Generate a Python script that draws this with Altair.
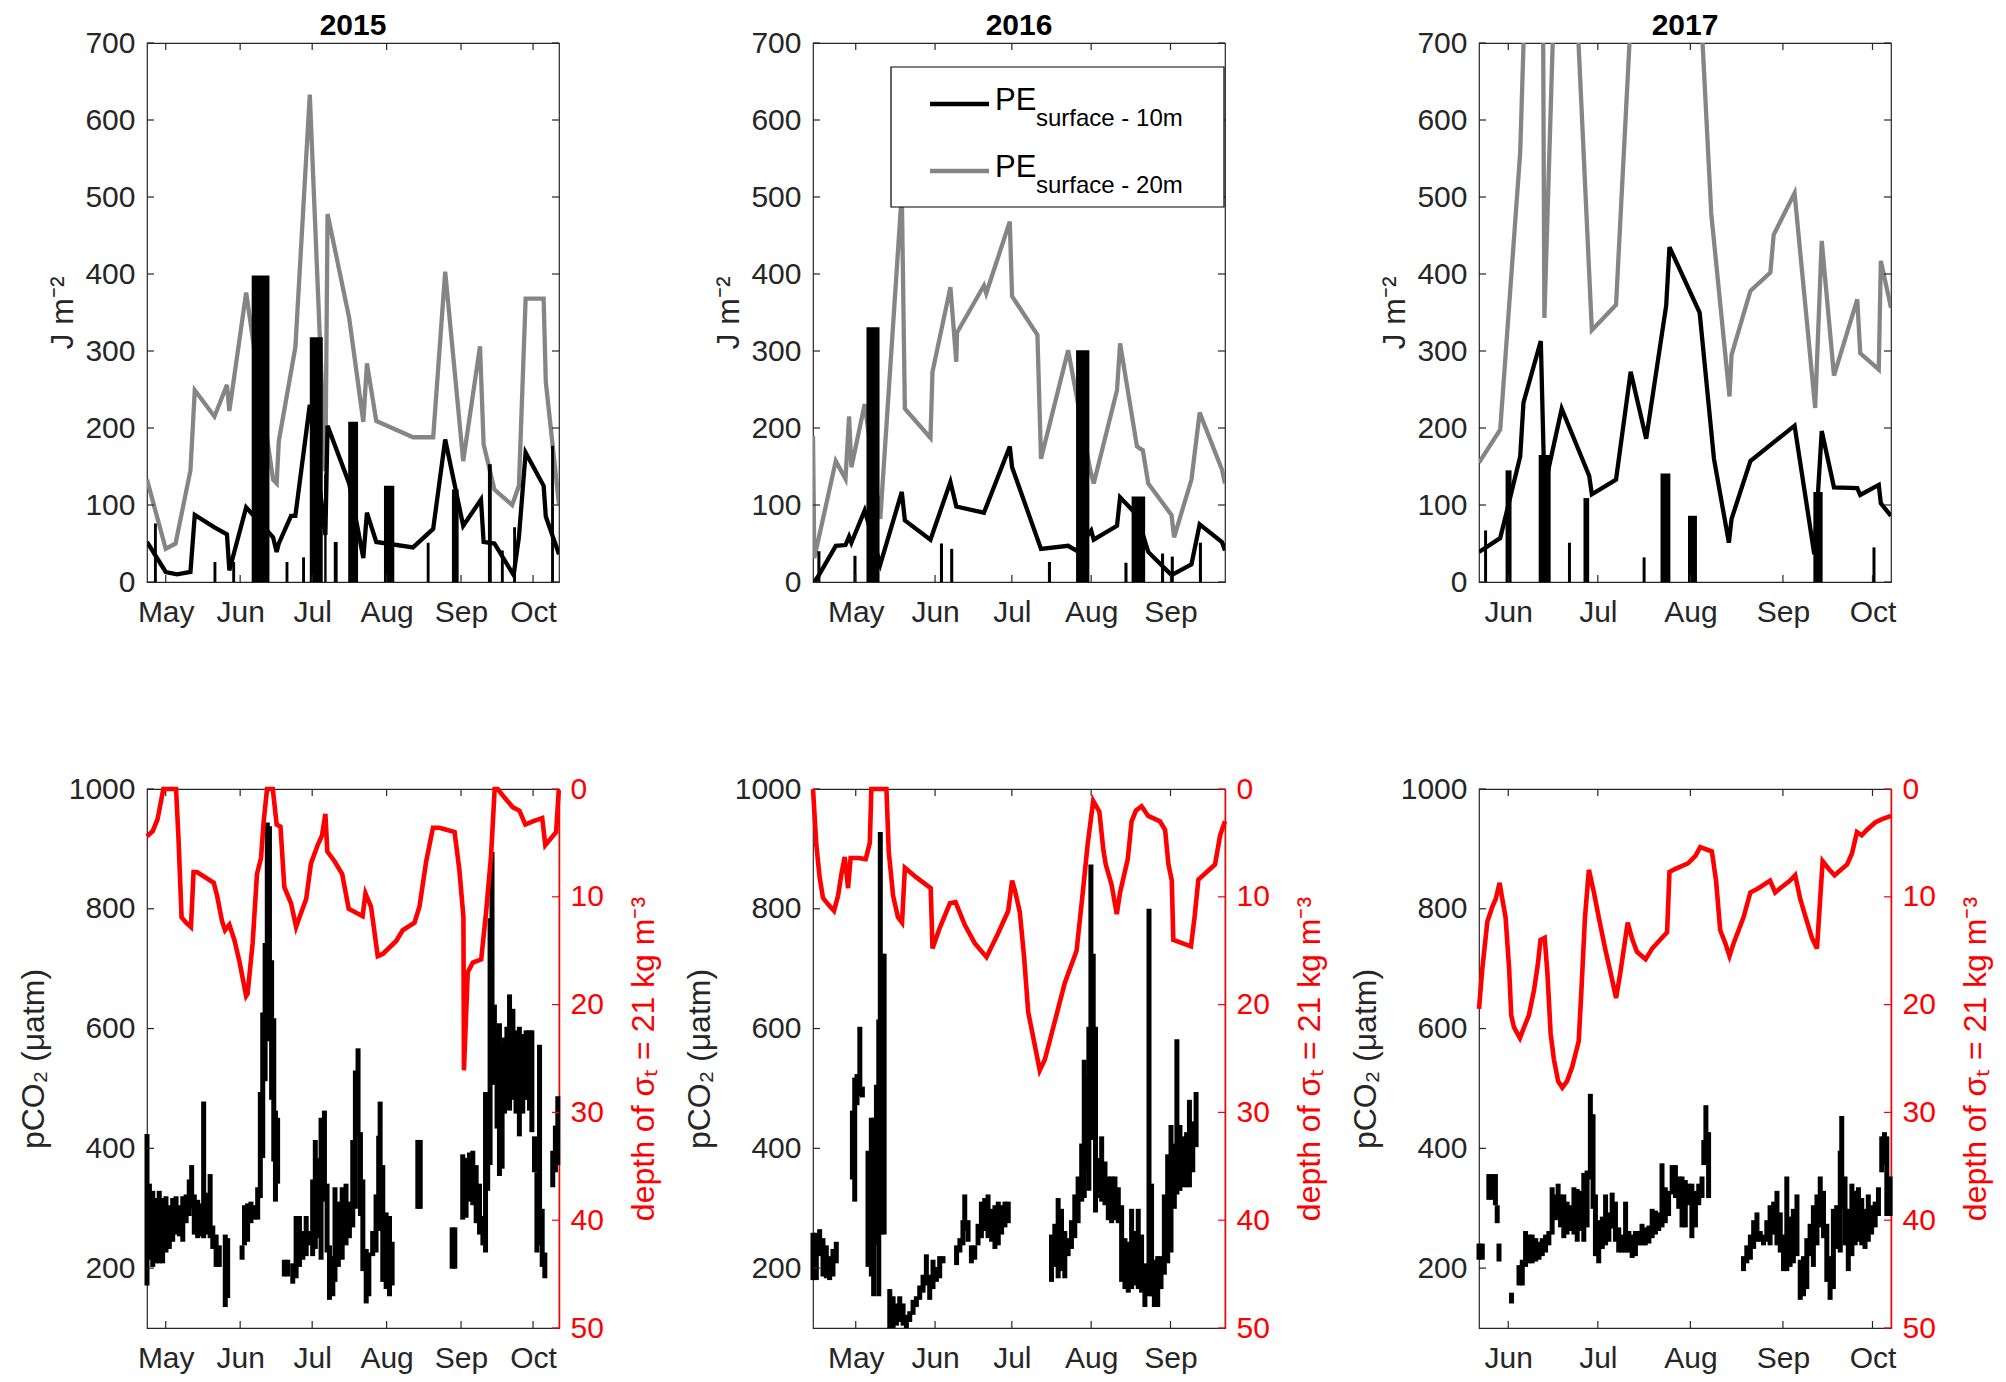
import altair as alt
import pandas as pd

# x is day of year; months are ticked on the 1st
pe_ticks = [0, 100, 200, 300, 400, 500, 600, 700]
pco2_ticks = [200, 400, 600, 800, 1000]
depth_ticks = [0, 10, 20, 30, 40, 50]

dom_2015 = [113.2, 284.8]
mon_doy_2015 = [121, 152, 182, 213, 244, 274]
mon_lbl_2015 = ["May", "Jun", "Jul", "Aug", "Sep", "Oct"]
dom_2016 = [105.3, 266.3]
mon_doy_2016 = [122, 153, 183, 214, 245]
mon_lbl_2016 = ["May", "Jun", "Jul", "Aug", "Sep"]
dom_2017 = [142.2, 280.2]
mon_doy_2017 = [152, 182, 213, 244, 274]
mon_lbl_2017 = ["Jun", "Jul", "Aug", "Sep", "Oct"]

# ---- potential energy, top row ----
pe20_doy_2015 = [113.2, 121.0, 125.1, 131.3, 133.1, 141.3, 146.5, 147.5, 154.5, 165.7,
                 167.2, 168.1, 175.0, 181.0, 187.5, 188.4, 197.4, 203.3, 204.8, 208.7,
                 224.0, 232.4, 237.4, 244.9, 251.9, 253.4, 257.9, 265.3, 268.1, 270.9,
                 278.4, 279.3, 284.8]
pe20_2015 = [133, 43, 50, 145, 249, 215, 256, 222, 376, 133,
             128, 183, 305, 633, 144, 478, 343, 208, 284, 209,
             188, 188, 403, 157, 306, 179, 120, 100, 125, 368,
             368, 260, 101]
pe10_doy_2015 = [113.2, 121.0, 125.7, 131.3, 133.1, 141.3, 146.5, 147.5, 154.5, 165.7,
                 167.2, 168.1, 173.2, 175.0, 181.0, 187.5, 188.4, 197.4, 203.3, 204.8,
                 208.7, 224.0, 232.4, 237.4, 244.9, 252.3, 253.4, 257.9, 265.9, 268.1,
                 270.9, 278.4, 279.3, 284.8]
pe10_2015 = [52, 13, 10, 13, 87, 71, 62, 15, 97, 58,
             39, 50, 86, 86, 230, 61, 203, 128, 31, 90,
             52, 45, 69, 185, 73, 107, 52, 50, 9, 58,
             168, 125, 85, 36]
bar_start_2015 = [116.1, 140.9, 148.7, 156.8, 170.9, 177.8, 181.0, 187.0, 191.0, 197.0,
                  211.9, 229.7, 240.2, 255.2, 260.6, 265.7, 281.5]
bar_end_2015 = [117.3, 142.1, 149.9, 164.2, 172.1, 179.0, 186.4, 188.0, 192.6, 201.1,
                216.2, 230.9, 243.0, 256.8, 261.8, 266.9, 282.7]
bar_val_2015 = [76, 26, 26, 398, 26, 32, 318, 140, 52, 208,
                125, 51, 120, 153, 41, 71, 177]

pe20_doy_2016 = [105.3, 105.8, 114.2, 118.0, 119.4, 120.3, 125.5, 131.6, 140.0, 141.2,
                 151.2, 152.0, 159.0, 161.3, 161.6, 172.1, 173.0, 182.2, 183.1, 193.0,
                 194.4, 205.0, 213.6, 215.0, 224.1, 225.3, 231.9, 234.2, 236.3, 245.4,
                 246.4, 253.2, 256.4, 265.1, 266.3]
pe20_2016 = [190, 31, 157, 134, 215, 149, 231, 82, 505, 225,
             187, 273, 383, 286, 324, 385, 375, 468, 371, 321,
             160, 301, 146, 128, 249, 310, 176, 171, 128, 87,
             58, 133, 220, 146, 128]
pe10_doy_2016 = [105.8, 107.6, 114.2, 118.0, 119.4, 120.3, 125.5, 131.6, 140.0, 141.2,
                 151.2, 159.0, 161.3, 172.1, 182.2, 183.1, 194.4, 205.0, 208.1, 214.0,
                 215.0, 224.1, 225.3, 231.9, 236.3, 245.4, 253.2, 256.4, 265.1, 266.3]
pe10_2016 = [0, 9, 47, 48, 59, 51, 93, 23, 117, 80,
             55, 130, 98, 90, 176, 149, 43, 47, 41, 67,
             55, 73, 110, 87, 39, 9, 23, 75, 52, 41]
bar_start_2016 = [107.0, 121.1, 126.2, 154.9, 158.9, 197.1, 208.1, 227.0, 229.8, 241.3,
                  245.1, 256.1]
bar_end_2016 = [108.2, 122.3, 131.3, 156.1, 160.1, 198.3, 213.3, 228.2, 235.1, 242.5,
                246.3, 257.3]
bar_val_2016 = [40, 34, 331, 50, 43, 26, 301, 25, 111, 37, 33, 51]

pe20_doy_2017 = [142.2, 149.3, 156.0, 162.9, 164.1, 170.3, 180.0, 188.1, 204.9, 220.0,
                 226.1, 226.8, 233.1, 239.8, 240.9, 247.9, 254.8, 257.0, 261.1, 268.9,
                 269.9, 276.1, 276.8, 280.2]
pe20_2017 = [155, 198, 558, 1430, 343, 1137, 327, 360, 1628, 478,
             241, 295, 378, 402, 451, 505, 226, 443, 268, 367,
             297, 276, 417, 356]
pe10_doy_2017 = [142.2, 149.3, 151.4, 156.0, 157.1, 162.9, 164.1, 165.1, 169.9, 179.1,
                 180.0, 188.1, 193.0, 198.2, 204.9, 206.0, 216.1, 220.9, 225.9, 226.8,
                 233.1, 247.9, 254.5, 257.0, 261.1, 268.9, 269.9, 276.1, 276.8, 280.2]
pe10_2017 = [39, 57, 90, 163, 233, 313, 125, 140, 225, 138,
             114, 133, 273, 186, 359, 435, 350, 160, 51, 82,
             157, 203, 36, 196, 123, 122, 113, 126, 102, 86]
bar_start_2017 = [143.9, 151.1, 162.2, 172.0, 177.2, 197.0, 203.0, 212.2, 254.2, 274.0]
bar_end_2017 = [144.9, 153.1, 166.2, 173.0, 179.1, 198.0, 206.3, 215.2, 257.3, 275.0]
bar_val_2017 = [67, 145, 165, 51, 109, 32, 141, 86, 117, 45]

legend_main = ["PE", "PE"]
legend_sub = ["surface - 10m", "surface - 20m"]
legend_color = ["black", "#858585"]

# ---- pCO2 (low/high envelope per time step) and isopycnal depth, bottom row ----
pco2_doy_2015 = [113.2, 114.2, 115.6, 117.0, 118.3, 119.7, 121.1, 122.5, 123.9, 125.3,
                 126.7, 128.1, 129.5, 130.8, 131.8, 132.9, 134.3, 135.7, 136.8, 137.8,
                 139.5, 140.6, 142.0, 143.3, 145.8, 146.8, 152.8, 153.8, 155.1, 156.5,
                 157.9, 159.3, 160.4, 161.4, 162.4, 163.3, 164.2, 165.1, 166.0, 166.7,
                 167.6, 170.4, 171.8, 173.9, 175.3, 176.7, 178.1, 179.5, 180.8, 182.2,
                 183.3, 184.5, 185.7, 187.1, 188.2, 189.2, 190.6, 191.5, 192.9, 194.5,
                 196.1, 197.5, 198.9, 200.0, 201.1, 202.1, 203.1, 204.5, 205.6, 207.2,
                 208.6, 209.7, 210.3, 211.4, 212.8, 214.2, 215.3, 226.0, 227.0, 240.3,
                 241.4, 244.7, 246.1, 247.5, 248.9, 250.3, 251.7, 253.1, 254.2, 255.1,
                 256.1, 256.9, 257.9, 259.0, 260.0, 261.1, 262.1, 263.1, 264.2, 265.6,
                 266.9, 268.3, 269.7, 271.1, 272.5, 273.5, 274.6, 275.6, 276.7, 277.8,
                 278.9, 282.2, 283.3, 284.3]
pco2_lo_2015 = [171, 214, 202, 208, 208, 208, 226, 232, 244, 256,
                253, 244, 275, 287, 299, 256, 250, 253, 250, 256,
                250, 232, 202, 202, 135, 150, 214, 238, 244, 275,
                281, 281, 317, 384, 512, 579, 664, 481, 378, 311,
                341, 186, 186, 174, 183, 202, 214, 220, 238, 220,
                232, 250, 214, 311, 226, 147, 153, 177, 202, 214,
                238, 250, 268, 299, 421, 287, 195, 141, 153, 220,
                226, 262, 335, 177, 165, 153, 171, 299, 299, 199,
                199, 281, 284, 311, 305, 275, 256, 238, 226, 329,
                372, 554, 506, 433, 354, 366, 458, 470, 463, 481,
                458, 420, 458, 481, 463, 427, 360, 226, 238, 202,
                183, 335, 360, 372]
pco2_hi_2015 = [424, 341, 329, 317, 329, 317, 320, 305, 317, 320,
                305, 320, 323, 348, 372, 323, 314, 308, 478, 326,
                357, 271, 256, 238, 256, 250, 238, 305, 308, 311,
                305, 335, 494, 627, 743, 944, 938, 714, 617, 463,
                451, 214, 214, 208, 287, 287, 262, 287, 262, 348,
                414, 384, 451, 463, 341, 238, 220, 335, 311, 335,
                341, 311, 414, 530, 567, 427, 348, 232, 226, 262,
                323, 421, 478, 372, 293, 287, 244, 414, 414, 268,
                268, 390, 384, 393, 396, 372, 341, 287, 494, 481,
                784, 895, 640, 603, 609, 573, 585, 603, 657, 633,
                597, 603, 591, 597, 597, 597, 420, 360, 573, 299,
                226, 396, 438, 487]
red_doy_2015 = [113.2, 115.6, 117.6, 120.0, 125.3, 126.3, 127.6, 129.5, 131.5, 132.6,
                134.0, 141.0, 142.4, 144.5, 145.7, 147.5, 149.6, 151.7, 154.5, 155.1,
                157.2, 159.0, 160.7, 161.8, 163.2, 165.6, 167.2, 168.8, 170.4, 173.2,
                175.3, 176.7, 179.5, 181.5, 184.3, 186.1, 187.5, 188.3, 191.3, 194.5,
                197.2, 203.0, 204.2, 206.5, 209.3, 211.4, 217.0, 219.7, 224.6, 226.7,
                229.5, 232.3, 235.0, 241.3, 243.3, 245.0, 245.2, 246.8, 248.9, 252.4,
                254.5, 256.5, 258.0, 259.3, 262.1, 265.6, 268.3, 270.8, 273.9, 277.8,
                279.1, 283.6, 284.7]
red_dep_2015 = [4.4, 3.9, 2.8, 0, 0, 4.5, 11.9, 12.4, 12.8, 7.7,
                7.7, 8.7, 9.9, 12.3, 13.1, 12.6, 14.0, 16.0, 19.2, 19.0,
                14.3, 7.9, 6.4, 3.0, 0, 0, 3.3, 3.5, 9.1, 10.6,
                12.8, 11.9, 10.2, 6.9, 5.2, 4.3, 2.3, 5.8, 6.7, 7.9,
                11.1, 11.8, 9.7, 10.9, 15.5, 15.3, 14.1, 13.1, 12.4, 10.9,
                6.7, 3.6, 3.6, 4.0, 7.5, 11.9, 26.1, 17.0, 16.1, 15.8,
                11.3, 6.2, 0, 0, 0.8, 1.7, 2.0, 3.3, 3.0, 2.7,
                5.2, 4.0, 0.1]

pco2_doy_2016 = [105.3, 106.6, 107.9, 109.2, 110.5, 111.8, 113.1, 114.4, 120.7, 121.6,
                 122.5, 123.6, 124.6, 126.8, 128.1, 129.0, 130.1, 131.0, 131.6, 132.3,
                 133.1, 135.3, 136.6, 137.9, 139.2, 140.5, 141.8, 143.1, 144.4, 145.7,
                 147.0, 148.3, 149.6, 150.9, 152.2, 153.5, 154.8, 156.1, 161.4, 162.7,
                 163.9, 164.6, 165.9, 167.2, 168.5, 169.8, 171.1, 172.4, 173.7, 175.1,
                 176.4, 177.7, 179.0, 180.3, 181.6, 198.5, 199.8, 201.1, 202.4, 203.7,
                 205.0, 206.3, 207.6, 208.9, 210.3, 211.3, 212.2, 213.1, 213.9, 214.8,
                 215.7, 216.8, 218.1, 219.4, 220.7, 222.0, 223.3, 224.6, 225.9, 227.2,
                 228.5, 229.8, 231.1, 232.4, 233.7, 235.0, 236.6, 237.6, 238.7, 240.0,
                 241.3, 242.6, 243.9, 245.2, 246.5, 247.5, 248.7, 250.0, 251.3, 252.4,
                 253.7, 255.0]
pco2_lo_2016 = [180, 180, 220, 186, 183, 180, 186, 208, 348, 311,
                472, 487, 485, 202, 186, 153, 238, 153, 603, 256,
                256, 100, 100, 104, 110, 104, 100, 110, 122, 135,
                147, 159, 171, 147, 165, 177, 183, 208, 205, 226,
                238, 262, 244, 208, 214, 238, 250, 262, 250, 244,
                232, 238, 256, 268, 275, 177, 202, 183, 195, 183,
                220, 232, 250, 275, 311, 317, 360, 329, 414, 420,
                293, 317, 311, 305, 280, 275, 280, 275, 177, 165,
                159, 165, 171, 165, 159, 135, 153, 153, 135, 135,
                165, 189, 208, 226, 299, 323, 329, 335, 335, 335,
                360, 402]
pco2_hi_2016 = [259, 259, 265, 250, 238, 220, 232, 244, 463, 518,
                524, 603, 503, 396, 451, 451, 506, 615, 928, 725,
                725, 165, 153, 141, 153, 141, 122, 128, 147, 153,
                171, 189, 223, 189, 214, 202, 220, 220, 238, 250,
                280, 323, 280, 238, 238, 274, 311, 317, 323, 299,
                305, 311, 305, 311, 311, 256, 274, 317, 299, 262,
                250, 280, 323, 353, 408, 548, 518, 603, 874, 725,
                603, 384, 420, 378, 353, 353, 353, 335, 305, 250,
                244, 299, 262, 299, 256, 208, 800, 341, 214, 220,
                220, 323, 390, 439, 408, 582, 439, 420, 427, 481,
                445, 494]
red_doy_2016 = [105.3, 106.6, 107.9, 109.2, 111.2, 113.5, 115.1, 116.4, 117.7, 119.0,
                120.0, 122.9, 125.9, 127.5, 128.1, 134.0, 134.9, 136.6, 138.5, 140.1,
                141.2, 145.7, 151.3, 152.0, 154.8, 158.8, 161.0, 164.6, 168.5, 173.1,
                177.6, 181.6, 183.1, 184.2, 186.1, 187.8, 189.4, 192.0, 193.9, 195.9,
                199.2, 203.7, 208.3, 210.9, 212.6, 214.8, 217.2, 218.8, 219.7, 222.0,
                224.0, 225.3, 228.3, 229.8, 231.5, 233.7, 236.3, 240.9, 242.9, 244.2,
                245.5, 246.1, 253.0, 254.4, 255.9, 262.4, 264.4, 266.3]
red_dep_2016 = [0, 5.2, 8.2, 10.1, 10.7, 11.3, 9.9, 7.9, 6.3, 9.2,
                6.4, 6.4, 6.5, 5.0, 0, 0, 5.8, 9.9, 11.9, 12.4,
                7.3, 8.2, 9.2, 14.8, 12.9, 10.6, 10.5, 12.6, 14.3, 15.6,
                13.4, 11.3, 8.5, 9.4, 11.4, 15.6, 20.7, 23.8, 26.1, 25.1,
                22.1, 18.0, 15.0, 9.2, 5.2, 1.1, 2.1, 5.7, 7.0, 8.9,
                11.6, 9.6, 6.5, 3.0, 2.0, 1.6, 2.5, 3.0, 3.8, 7.0,
                8.5, 14.0, 14.6, 11.9, 8.4, 7.0, 4.3, 3.0]

pco2_doy_2017 = [142.2, 143.3, 145.5, 146.6, 147.7, 148.3, 148.9, 153.1, 155.6, 156.7,
                 157.8, 158.9, 160.0, 161.2, 162.3, 163.4, 164.5, 165.6, 166.7, 167.8,
                 168.7, 169.5, 170.6, 171.7, 172.9, 174.0, 175.1, 176.2, 177.3, 178.4,
                 179.5, 180.4, 181.2, 182.3, 183.5, 184.6, 185.7, 186.8, 187.9, 189.0,
                 190.1, 191.3, 192.4, 193.5, 194.6, 195.7, 196.8, 197.9, 199.1, 200.2,
                 201.3, 202.4, 203.5, 204.6, 205.7, 206.9, 208.0, 209.1, 210.2, 211.3,
                 212.4, 213.5, 214.7, 215.8, 216.9, 217.5, 218.2, 219.1, 230.8, 231.9,
                 233.1, 234.2, 235.3, 236.4, 237.5, 238.6, 239.7, 240.9, 242.0, 243.1,
                 244.2, 245.3, 246.4, 247.5, 248.7, 249.8, 250.9, 252.0, 253.1, 254.2,
                 255.4, 256.5, 257.6, 258.7, 259.8, 260.9, 262.0, 263.2, 263.7, 264.8,
                 265.9, 267.1, 268.2, 269.3, 270.4, 271.5, 272.6, 273.7, 274.9, 276.0,
                 277.1, 278.0, 278.8, 279.9]
pco2_lo_2017 = [214, 214, 314, 314, 305, 275, 211, 141, 171, 171,
                202, 208, 208, 211, 214, 220, 226, 238, 256, 280,
                287, 268, 250, 256, 262, 256, 244, 262, 244, 268,
                348, 299, 220, 208, 232, 238, 244, 266, 244, 226,
                226, 226, 226, 217, 220, 238, 238, 238, 241, 250,
                256, 262, 268, 275, 287, 323, 317, 299, 268, 268,
                305, 250, 268, 305, 317, 372, 378, 317, 195, 208,
                214, 232, 244, 244, 238, 244, 238, 256, 238, 226,
                195, 195, 202, 208, 220, 147, 153, 165, 220, 202,
                238, 268, 250, 177, 147, 165, 232, 226, 299, 238,
                195, 220, 238, 244, 238, 232, 244, 256, 268, 287,
                360, 372, 287, 287]
pco2_hi_2017 = [241, 241, 357, 357, 357, 305, 241, 159, 205, 214,
                262, 256, 256, 250, 244, 250, 256, 262, 335, 323,
                341, 323, 323, 311, 305, 335, 332, 329, 359, 363,
                491, 457, 323, 280, 286, 323, 293, 326, 311, 268,
                256, 311, 262, 256, 262, 262, 274, 268, 271, 299,
                296, 293, 375, 335, 329, 372, 372, 353, 353, 347,
                341, 341, 329, 341, 353, 414, 472, 427, 220, 238,
                256, 280, 293, 262, 256, 280, 305, 311, 329, 293,
                256, 353, 286, 299, 323, 214, 220, 250, 274, 305,
                323, 353, 329, 274, 220, 299, 305, 396, 454, 353,
                299, 341, 329, 335, 317, 299, 323, 305, 311, 335,
                420, 427, 420, 353]
red_doy_2017 = [142.2, 143.3, 145.0, 146.7, 147.8, 149.1, 150.0, 151.1, 152.3, 153.0,
                153.9, 155.9, 157.3, 158.9, 160.6, 161.9, 162.8, 164.2, 165.1, 166.2,
                167.3, 168.7, 170.1, 171.7, 173.4, 175.6, 176.5, 177.7, 179.0, 180.7,
                182.3, 184.6, 186.8, 188.1, 189.4, 191.0, 192.0, 193.5, 195.1, 198.0,
                200.2, 203.5, 205.2, 206.0, 208.0, 212.2, 214.7, 216.3, 220.2, 221.6,
                223.0, 224.7, 226.1, 227.5, 230.8, 233.1, 235.8, 239.7, 241.4, 243.1,
                246.4, 248.1, 249.8, 251.5, 253.7, 255.4, 257.3, 259.3, 261.3, 265.5,
                267.1, 268.8, 270.4, 272.1, 274.9, 277.2, 280.2]
red_dep_2017 = [20.4, 16.7, 12.3, 10.9, 10.2, 8.7, 10.2, 11.9, 16.7, 21.0,
                22.1, 23.1, 22.1, 21.0, 18.7, 16.3, 14.0, 13.8, 17.0, 22.7,
                25.1, 27.1, 27.7, 27.1, 25.8, 23.4, 18.7, 11.9, 7.5, 9.6,
                11.9, 15.0, 17.7, 19.4, 17.3, 14.3, 12.4, 13.9, 15.1, 15.8,
                14.8, 13.8, 13.3, 7.7, 7.4, 6.9, 6.2, 5.4, 5.8, 8.5,
                13.1, 14.3, 15.5, 14.3, 11.9, 9.6, 9.2, 8.5, 9.6, 9.2,
                8.5, 8.0, 10.2, 11.8, 13.8, 14.8, 6.7, 7.4, 8.0, 7.0,
                6.0, 4.0, 4.3, 3.8, 3.1, 2.8, 2.5]

FONT = "Liberation Sans"
INK = "#262626"
GRAY = "#858585"
W, H = 412, 539
TL = 7  # inward tick length (matlab style)
LW = 4.3  # line width


def month_axis(dom, doys, names):
    expr = " : ".join(f"datum.value == {d} ? '{n}'" for d, n in zip(doys, names)) + " : ''"
    return alt.Axis(values=doys, labelExpr=expr, title=None, grid=False, domain=False,
                    ticks=False, tickSize=0, labelPadding=15, labelFlush=False)


def xq(field, xs):
    return alt.X(f"{field}:Q", scale=alt.Scale(domain=xs[0], nice=False, zero=False),
                 axis=month_axis(*xs))


def x_ticks(xs):
    base = alt.Chart(pd.DataFrame({"t": xs[1]})).mark_rule(color=INK, strokeWidth=1.2)
    return [base.encode(x=xq("t", xs), y=alt.value(H), y2=alt.value(H - TL)),
            base.encode(x=xq("t", xs), y=alt.value(0), y2=alt.value(TL))]


def y_ticks(vals, yf, x0, x1, color):
    return alt.Chart(pd.DataFrame({"t": vals})).mark_rule(color=color, strokeWidth=1.2).encode(
        y=yf("t"), x=alt.value(x0), x2=alt.value(x1))


def legend_layers():
    one = pd.DataFrame({"k": [0]})
    out = [alt.Chart(one).mark_rect(fill="white", stroke="black", strokeWidth=1.2).encode(
        x=alt.value(78), x2=alt.value(411), y=alt.value(24), y2=alt.value(164))]
    for i, (main, sub, col) in enumerate(zip(legend_main, legend_sub, legend_color)):
        dy = 67 * i
        out.append(alt.Chart(one).mark_rule(color=col, strokeWidth=LW).encode(
            x=alt.value(117), x2=alt.value(176), y=alt.value(61 + dy)))
        out.append(alt.Chart(one).mark_text(text=main, font=FONT, fontSize=31, align="left",
                                            baseline="alphabetic", color="black").encode(
            x=alt.value(182), y=alt.value(67 + dy)))
        out.append(alt.Chart(one).mark_text(text=sub, font=FONT, fontSize=24, align="left",
                                            baseline="alphabetic", color="black").encode(
            x=alt.value(223), y=alt.value(83 + dy)))
    return out


def top_panel(title, xs, k_doy, k_val, g_doy, g_val, b_s, b_e, b_v, legend=False):
    ysc = alt.Scale(domain=[0, 700], nice=False)
    yax = alt.Axis(values=pe_ticks, title="J m⁻²", titleX=-75, titleY=H / 2, titleAngle=270,
                   titleAlign="center", titleBaseline="alphabetic", labelPadding=12,
                   grid=False, domain=False, ticks=False, tickSize=0)

    def yf(f):
        return alt.Y(f"{f}:Q", scale=ysc, axis=yax)

    gray = alt.Chart(pd.DataFrame({"doy": g_doy, "v": g_val})).mark_line(
        color=GRAY, strokeWidth=LW, clip=True).encode(x=xq("doy", xs), y=yf("v"))
    black = alt.Chart(pd.DataFrame({"doy": k_doy, "v": k_val})).mark_line(
        color="black", strokeWidth=LW, clip=True).encode(x=xq("doy", xs), y=yf("v"))
    bars = alt.Chart(pd.DataFrame({"s": b_s, "e": b_e, "v": b_v})).mark_rect(color="black").encode(
        x=xq("s", xs), x2="e", y=yf("v"), y2=alt.datum(0))
    layers = [gray, black, bars] + x_ticks(xs) + [
        y_ticks(pe_ticks, yf, 0, TL, INK), y_ticks(pe_ticks, yf, W - TL, W, INK)]
    if legend:
        layers += legend_layers()
    return alt.layer(*layers).properties(
        width=W, height=H,
        title=alt.TitleParams(title, font=FONT, fontSize=30, fontWeight="bold", color="black",
                              frame="group", offset=-13))


def bottom_panel(xs, p_doy, p_lo, p_hi, r_doy, r_dep):
    psc = alt.Scale(domain=[100, 1000], nice=False, zero=False)
    pax = alt.Axis(values=pco2_ticks, format="d", title="pCO₂ (μatm)", titleX=-104,
                   titleY=H / 2, titleAngle=270, titleAlign="center",
                   titleBaseline="alphabetic", labelPadding=12, grid=False, domain=False,
                   ticks=False, tickSize=0)

    def pf(f):
        return alt.Y(f"{f}:Q", scale=psc, axis=pax)

    dsc = alt.Scale(domain=[0, 50], reverse=True, nice=False, zero=False)
    dax = alt.Axis(orient="right", values=depth_ticks, title="depth of σₜ = 21 kg m⁻³",
                   titleX=94, titleY=H / 2, titleAngle=270, titleAlign="center",
                   titleBaseline="alphabetic", titleColor="red", labelColor="red",
                   labelPadding=11, grid=False, domain=True, domainColor="red",
                   domainWidth=1.5, ticks=False, tickSize=0)

    def df(f):
        return alt.Y(f"{f}:Q", scale=dsc, axis=dax)

    pco2 = alt.Chart(pd.DataFrame({"doy": p_doy, "lo": p_lo, "hi": p_hi})).mark_rule(
        color="black", strokeWidth=5).encode(x=xq("doy", xs), y=pf("lo"), y2="hi")
    left = alt.layer(pco2, *x_ticks(xs), y_ticks(pco2_ticks, pf, 0, TL, INK))
    red = alt.Chart(pd.DataFrame({"doy": r_doy, "d": r_dep})).mark_line(
        color="red", strokeWidth=4.6).encode(x=xq("doy", xs), y=df("d"))
    right = alt.layer(red, y_ticks(depth_ticks, df, W - TL, W, "red"))
    return alt.layer(left, right).resolve_scale(y="independent").properties(width=W, height=H)


xs15 = (dom_2015, mon_doy_2015, mon_lbl_2015)
xs16 = (dom_2016, mon_doy_2016, mon_lbl_2016)
xs17 = (dom_2017, mon_doy_2017, mon_lbl_2017)

tops = [
    top_panel("2015", xs15, pe10_doy_2015, pe10_2015, pe20_doy_2015, pe20_2015,
              bar_start_2015, bar_end_2015, bar_val_2015),
    top_panel("2016", xs16, pe10_doy_2016, pe10_2016, pe20_doy_2016, pe20_2016,
              bar_start_2016, bar_end_2016, bar_val_2016, legend=True),
    top_panel("2017", xs17, pe10_doy_2017, pe10_2017, pe20_doy_2017, pe20_2017,
              bar_start_2017, bar_end_2017, bar_val_2017),
]
bottoms = [
    bottom_panel(xs15, pco2_doy_2015, pco2_lo_2015, pco2_hi_2015, red_doy_2015, red_dep_2015),
    bottom_panel(xs16, pco2_doy_2016, pco2_lo_2016, pco2_hi_2016, red_doy_2016, red_dep_2016),
    bottom_panel(xs17, pco2_doy_2017, pco2_lo_2017, pco2_hi_2017, red_doy_2017, red_dep_2017),
]

chart = alt.concat(*tops, *bottoms, columns=3, spacing={"row": 207, "column": 254},
                   bounds="flush").properties(
    padding={"left": 8, "top": 2, "right": 4, "bottom": 0}
).configure_view(
    stroke=INK, strokeWidth=1.2
).configure_axis(
    labelFont=FONT, labelFontSize=30, labelColor=INK,
    titleFont=FONT, titleFontSize=32, titleFontWeight="normal", titleColor=INK
)

chart.save("out.html", embed_options={"renderer": "svg", "actions": False})
